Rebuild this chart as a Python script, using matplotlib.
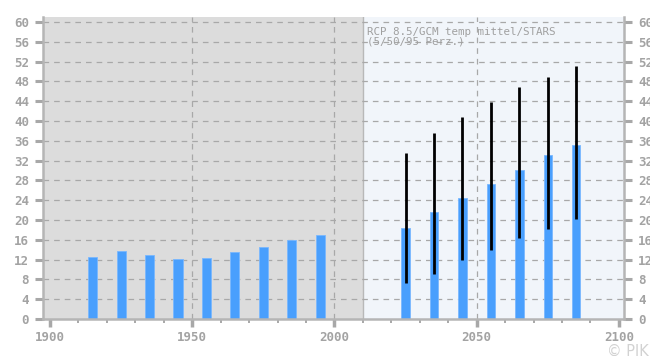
import matplotlib
matplotlib.use("Agg")
import matplotlib.pyplot as plt
from matplotlib.ticker import MultipleLocator

# Observed decadal values
hist_years = [1915, 1925, 1935, 1945, 1955, 1965, 1975, 1985, 1995]
hist_values = [12.45, 13.7, 12.85, 12.05, 12.25, 13.5, 14.5, 16.0, 16.9]

# Scenario decades: median with 5th / 95th percentile
proj_years = [2025, 2035, 2045, 2055, 2065, 2075, 2085]
proj_median = [18.3, 21.65, 24.4, 27.2, 30.1, 33.1, 35.2]
proj_p05 = [7.2, 9.1, 11.9, 13.9, 16.3, 18.1, 20.2]
proj_p95 = [33.6, 37.5, 40.8, 43.8, 46.8, 48.8, 51.0]

y_ticks = list(range(0, 61, 4))
x_major = [1900, 1950, 2000, 2050, 2100]

label_color = "#a3a3a3"
grid_color = "#a8a8a8"
bar_color = "#499ffd"
mono = {"family": "DejaVu Sans Mono", "weight": "bold", "size": 9}

fig = plt.figure(figsize=(6.5, 3.56), dpi=100)
ax = fig.add_axes([0.066, 0.104, 0.894, 0.847])
ax.set_xlim(1897.5, 2101.8)
ax.set_ylim(0, 60.9)

# Background periods
ax.axvspan(1897.5, 2010, color="#dcdcdc", zorder=0, lw=0)
ax.axvspan(2010, 2101.8, color="#f1f5fa", zorder=0, lw=0)
ax.axvline(2010, color="#b8b8b8", lw=1, zorder=0.5)

# Grid
for y in y_ticks[1:]:
    ax.axhline(y, color=grid_color, lw=0.9, ls=(0, (4.5, 4)), zorder=1)
for x in [1950, 2000, 2050]:
    ax.axvline(x, color=grid_color, lw=0.9, ls=(0, (4.5, 4)), zorder=1)

ax.bar(hist_years, hist_values, width=3.2, color=bar_color,
       edgecolor="#7ab8ff", linewidth=0.6, zorder=2)
ax.bar(proj_years, proj_median, width=3.0, color=bar_color,
       edgecolor="#7ab8ff", linewidth=0.6, zorder=2)
ax.vlines(proj_years, proj_p05, proj_p95, color="black", lw=2.0, zorder=3)

ax.text(2011.5, 59.0, "RCP 8.5/GCM temp mittel/STARS\n(5/50/95 Perz.)",
        family="DejaVu Sans Mono", size=7.8, color="#a0a0a0",
        va="top", ha="left", linespacing=1.0, zorder=4)

# Axes styling
ax.spines["top"].set_visible(False)
for s in ["left", "right", "bottom"]:
    ax.spines[s].set_color("#b5b5b5")
    ax.spines[s].set_linewidth(1.8)

ax.yaxis.set_ticks(y_ticks)
ax.tick_params(axis="y", which="both", left=True, right=True,
               labelleft=True, labelright=True, direction="out",
               length=6, width=2.2, color="#a8a8a8", labelcolor=label_color, pad=4)
ax.set_xticks(x_major)
ax.xaxis.set_minor_locator(MultipleLocator(10))
ax.tick_params(axis="x", which="major", direction="out", length=6, width=2.5,
               color="#a8a8a8", labelcolor=label_color, pad=3)
ax.tick_params(axis="x", which="minor", direction="out", length=3, width=1.4,
               color="#a8a8a8")
for lab in ax.get_xticklabels() + ax.get_yticklabels():
    lab.set_fontproperties(mono)
for t in ax.yaxis.get_major_ticks():
    t.label2.set_fontproperties(mono)
    t.label2.set_color(label_color)

fig.text(0.998, -0.008, "\u00a9 PIK", ha="right", va="bottom", size=10.5,
         color="#d2d2d2", family="DejaVu Sans")

fig.savefig("out.png", dpi=100)
